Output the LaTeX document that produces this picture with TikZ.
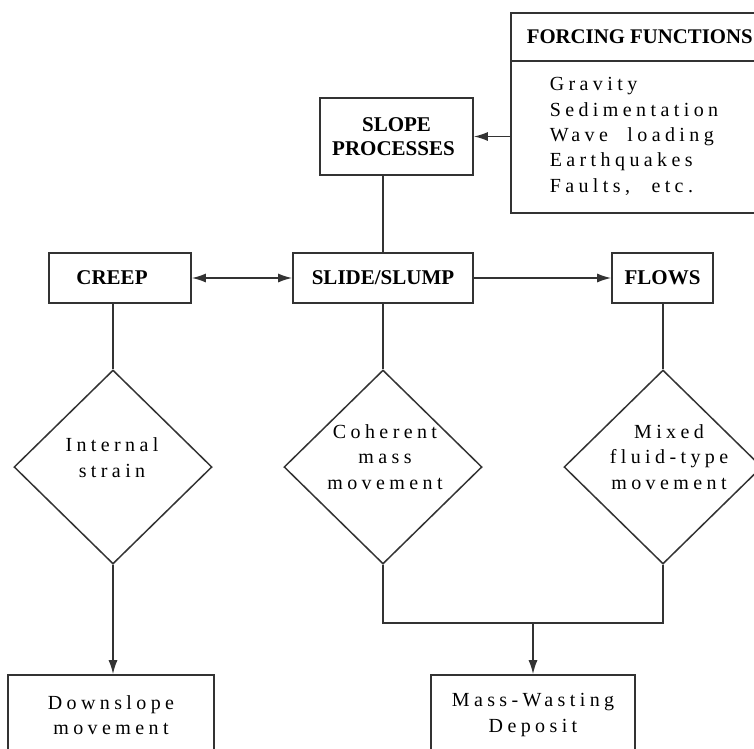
\documentclass[tikz,border=0pt]{standalone}
\usepackage{fontspec}
\setmainfont{Liberation Serif}
\newfontfamily\spacedfont[LetterSpace=22]{Liberation Serif}
\usetikzlibrary{shapes.geometric,arrows.meta}
\definecolor{ink}{gray}{0.2}
\begin{document}
\begin{tikzpicture}[x=1pt,y=-1pt,
  line width=1.6pt,
  box/.style={draw=ink, line width=1.6pt, inner sep=0pt, align=center,
    font=\bfseries\fontsize{21}{24}\selectfont},
  dia/.style={draw=ink, diamond, inner sep=0pt, line width=1.5pt,
    minimum width=198pt, minimum height=194pt},
  txt/.style={align=center, inner sep=0pt,
    font=\spacedfont\fontsize{20}{25.5}\selectfont},
  link/.style={draw=ink, line width=1.6pt},
  tip/.tip={Latex[length=14pt,width=9pt]},
  arr/.style={link, -tip},
  arrs/.style={link, tip-tip}]

\useasboundingbox (0,0) rectangle (754,748);
\fill[white] (0,0) rectangle (754,748);
\clip (0,0) rectangle (754,748);

% forcing functions panel (runs off the right edge)
\node[box, minimum width=279pt, minimum height=200pt] (forcing) at (650.5,113) {};
\draw[link] (511,61) -- (790,61);
\node[anchor=west, inner sep=0pt, font=\bfseries\fontsize{20.8}{24}\selectfont] (fhead) at (526,37) {FORCING FUNCTIONS};
\node[txt, anchor=west, align=left, font=\spacedfont\fontsize{20}{25.3}\selectfont] (flist) at (549,136.5)
  {Gravity\\Sedimentation\\Wave\hspace{0.5em} loading\\Earthquakes\\Faults,\hspace{0.6em} etc.};

% process boxes
\node[box, minimum width=153pt, minimum height=77pt] (slope) at (396.5,136.5) {SLOPE\\PROCESSES\hspace*{6pt}};
\node[box, minimum width=142pt, minimum height=50pt] (creep) at (120,278) {CREEP\hspace*{16pt}};
\node[box, minimum width=180pt, minimum height=50pt] (slide) at (383,278) {SLIDE/SLUMP};
\node[box, minimum width=101pt, minimum height=50pt] (flows) at (662.5,278) {FLOWS};

% movement type diamonds
\node[dia] (d1) at (113,467) {};
\node[dia] (d2) at (383,467) {};
\node[dia] (d3) at (663,467) {};
\node[txt] (t1) at (112,457.5) {Internal\\strain};
\node[txt] (t2) at (385,457) {Coherent\\mass\\movement};
\node[txt] (t3) at (669,457) {Mixed\\fluid-type\\movement};

% results (cut by the lower edge)
\node[box, minimum width=206pt, minimum height=80pt, font=\spacedfont\fontsize{20}{25.5}\selectfont] (down) at (111,715) {Downslope\\movement};
\node[box, minimum width=204pt, minimum height=80pt, font=\spacedfont\fontsize{20}{25.5}\selectfont] (mw) at (533,715) {Mass-Wasting\\Deposit};

% connectors
\draw[arr] (forcing.west |- slope.east) -- (slope.east);
\draw[link] (slide.north) -- (slide.north |- slope.south);
\draw[arrs] (creep.east) -- (slide.west);
\draw[arr] (slide.east) -- (flows.west);
\draw[link] (d1.north) -- (d1.north |- creep.south);
\draw[link] (d2.north) -- (d2.north |- slide.south);
\draw[link] (d3.north) -- (d3.north |- flows.south);
\draw[arr] (d1.south) -- (d1.south |- down.north);
\coordinate (join) at (mw.north |- 0,623);
\draw[link] (d2.south) |- (d3.south |- join) -- (d3.south);
\draw[arr] (join) -- (mw.north);
\end{tikzpicture}
\end{document}
